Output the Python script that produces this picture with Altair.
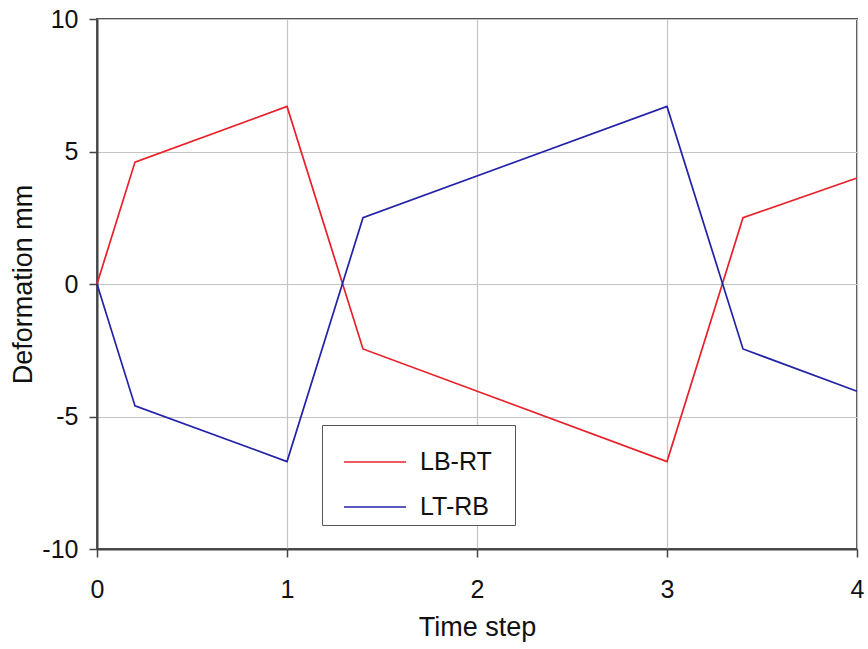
import altair as alt
import pandas as pd

time_steps = [0, 0.2, 1, 1.4, 3, 3.4, 4]
lb_rt = [0, 4.6, 6.7, -2.45, -6.7, 2.5, 4.0]
lt_rb = [0, -4.6, -6.7, 2.5, 6.7, -2.45, -4.05]
series_names = ["LB-RT", "LT-RB"]
series_colors = ["#e8202a", "#2222a8"]

rows = []
for t, a, b in zip(time_steps, lb_rt, lt_rb):
    rows.append({"t": t, "v": a, "s": series_names[0]})
    rows.append({"t": t, "v": b, "s": series_names[1]})
df = pd.DataFrame(rows)

FONT = "Liberation Sans"

chart = alt.Chart(df).mark_line(strokeWidth=1.7).encode(
    x=alt.X("t:Q", scale=alt.Scale(domain=[0, 4], nice=False, zero=False),
            axis=alt.Axis(title="Time step", values=[0, 1, 2, 3, 4],
                          labelExpr="toString(datum.value)", labelFlush=False,
                          labelPadding=20, titlePadding=12)),
    y=alt.Y("v:Q", scale=alt.Scale(domain=[-10, 10], nice=False),
            axis=alt.Axis(title="Deformation mm", values=[-10, -5, 0, 5, 10],
                          labelExpr="toString(datum.value)", labelFlush=False,
                          labelPadding=11, titlePadding=4)),
    color=alt.Color("s:N", scale=alt.Scale(domain=series_names, range=series_colors),
                    legend=alt.Legend(title=None, orient="none", legendX=225, legendY=406,
                                      symbolType="stroke", symbolSize=3844, symbolStrokeWidth=1.7,
                                      symbolOffset=16,
                                      labelFontSize=25, labelFont=FONT, labelColor="#111",
                                      labelOffset=13, rowPadding=-24,
                                      labelExpr="datum.label + '\u2800'",
                                      padding=5, strokeColor="#555", fillColor="white",
                                      cornerRadius=0)),
    detail="s:N",
).properties(
    width=760, height=530,
    padding={"left": 97, "top": 19, "right": 11, "bottom": 100},
    autosize=alt.AutoSizeParams(type="none"),
).configure_view(
    stroke="#555", strokeWidth=2
).configure_axis(
    labelFont=FONT, titleFont=FONT, labelFontSize=25, titleFontSize=27,
    labelColor="#111", titleColor="#111", titleFontWeight="normal",
    domainColor="#444", domainWidth=2, tickColor="#444", tickWidth=1.5, tickSize=8,
    gridColor="#c4c4c4", gridWidth=1.2, grid=True,
)

chart.save("out.html", embed_options={"renderer": "svg", "actions": False})
